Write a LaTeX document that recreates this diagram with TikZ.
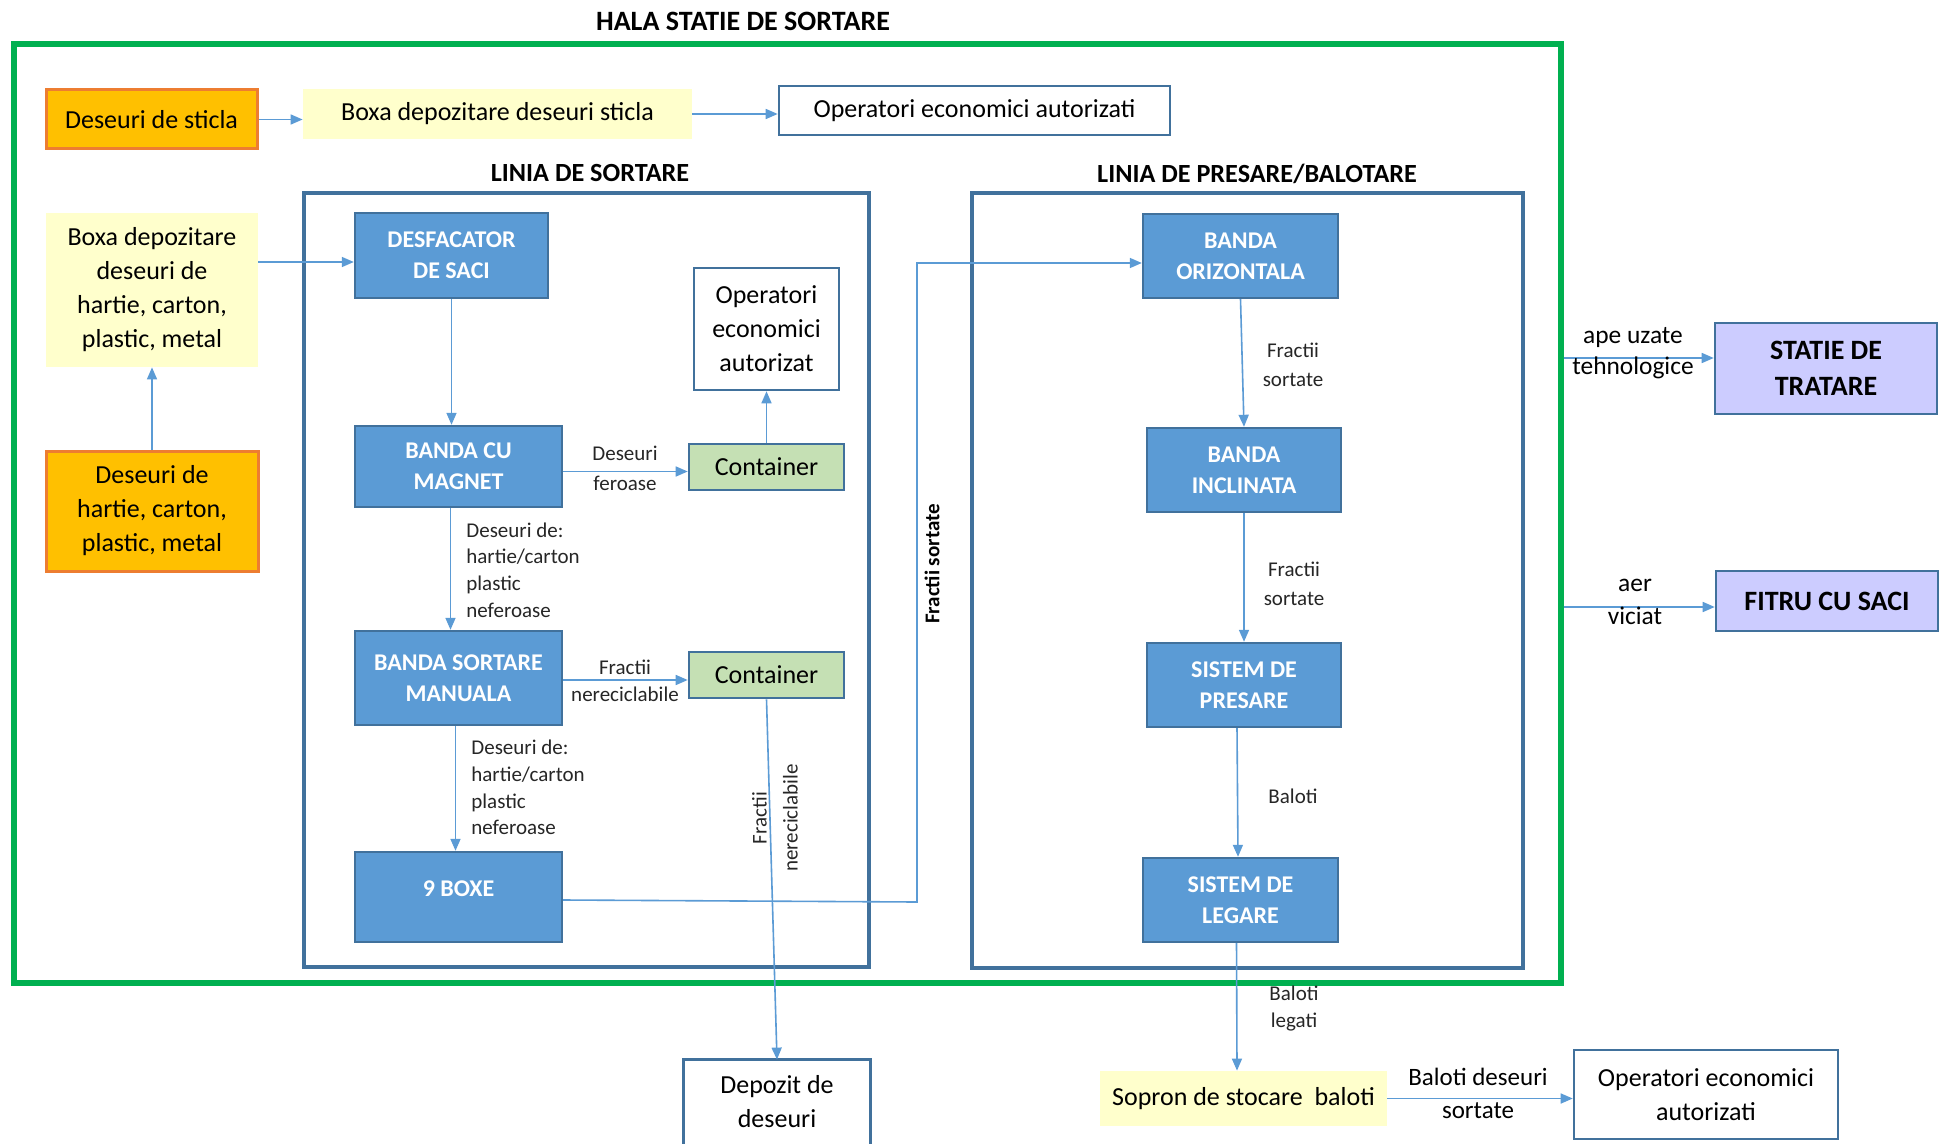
\documentclass[tikz,border=0pt]{standalone}
\usepackage{fontspec}
\setmainfont{Carlito}
\usetikzlibrary{arrows.meta,calc}
\definecolor{bluef}{HTML}{5B9BD5}
\definecolor{bordc}{HTML}{41719C}
\definecolor{linec}{HTML}{5B9BD5}
\definecolor{orangef}{HTML}{FFC000}
\definecolor{oranged}{HTML}{ED7D31}
\definecolor{yellowf}{HTML}{FFFFCC}
\definecolor{greenf}{HTML}{C5E0B4}
\definecolor{lavf}{HTML}{CCCCFF}
\definecolor{hallg}{HTML}{00B050}
\begin{document}
\begin{tikzpicture}[x=0.5pt,y=-0.5pt,
  sz/.style 2 args={minimum width=#1*0.5pt, minimum height=#2*0.5pt},
  box/.style={inner sep=0pt, align=center, font=\fontsize{13}{17}\selectfont},
  bluebox/.style={box, draw=bordc, fill=bluef, line width=1.2pt, text=white, font=\fontsize{12}{15.5}\selectfont\bfseries},
  orbox/.style={box, draw=oranged, fill=orangef, line width=1.5pt},
  yelbox/.style={box, fill=yellowf},
  whbox/.style={box, draw=bordc, line width=1.3pt},
  grbox/.style={box, draw=bordc, fill=greenf, line width=1.3pt},
  lavbox/.style={box, draw=bordc, fill=lavf, line width=1.3pt, font=\fontsize{14}{18}\selectfont\bfseries},
  frame/.style={inner sep=0pt, draw=bordc, line width=1.6pt},
  ttl/.style={inner sep=0pt, font=\fontsize{13.1}{15}\selectfont\bfseries},
  lab/.style={inner sep=0pt, align=center, text=black!85, font=\fontsize{10.5}{15}\selectfont},
  labl/.style={inner sep=0pt, align=left, anchor=west, text=black!85, font=\fontsize{10.5}{13.3}\selectfont},
  conn/.style={draw=linec, line width=0.8pt, -{Triangle[length=6pt,width=5pt]}},
  plain/.style={draw=linec, line width=0.8pt}
]
\useasboundingbox (0,0) rectangle (1941,1144);
\fill[white] (0,0) rectangle (1941,1144);

% frames
\node[inner sep=0pt, draw=hallg, line width=2.6pt, sz={1547}{939}] (hall) at (787.5,513.5) {};
\node[frame, sz={565}{774}] (sortfr) at (586.5,580) {};
\node[frame, sz={551}{775}] (presfr) at (1247.5,580.5) {};

% titles
\node[ttl, font=\fontsize{14}{16}\selectfont\bfseries] (t1) at (743,21) {HALA STATIE DE SORTARE};
\node[ttl] (t2) at (590,173) {LINIA DE SORTARE};
\node[ttl] (t3) at (1257,174) {LINIA DE PRESARE/BALOTARE};

% left column
\node[orbox, sz={211}{59}] (sticla) at (151.5,119.5) {Deseuri de sticla};
\node[yelbox, sz={389}{50}] (boxaSticla) at (497.5,114) {Boxa depozitare deseuri sticla};
\node[whbox, sz={391}{49}] (opTop) at (974.5,110.5) {Operatori economici autorizati};
\node[yelbox, sz={212}{154}] (boxaHartie) at (152,290) {Boxa depozitare\\deseuri de\\hartie, carton,\\plastic, metal};
\node[orbox, sz={212}{120}] (desHartie) at (152,511) {Deseuri de\\hartie, carton,\\plastic, metal};

% sortare line
\node[bluebox, sz={193}{85}] (desf) at (451.5,255.5) {DESFACATOR\\DE SACI};
\node[whbox, sz={145}{122}] (opMid) at (766.5,329) {Operatori\\economici\\autorizat};
\node[bluebox, sz={207}{81}] (magnet) at (458.5,466.5) {BANDA CU\\MAGNET};
\node[grbox, sz={155}{46}] (cont1) at (766.5,467) {Container};
\node[bluebox, sz={207}{94}] (manual) at (458.5,678) {BANDA SORTARE\\MANUALA};
\node[grbox, sz={155}{46}] (cont2) at (766.5,675) {Container};
\node[bluebox, sz={207}{90}] (boxe) at (458.5,897) {};
\node[inner sep=0pt, text=white, font=\fontsize{12}{15.5}\selectfont\bfseries] (boxeT) at (458.5,889) {9 BOXE};
\node[box, sz={186}{84}] (depozit) at (777,1102) {Depozit de\\deseuri};
\draw[bordc, line width=1.3pt] (depozit.south west) -- (depozit.north west) -- (depozit.north east) -- (depozit.south east);

% presare line
\node[bluebox, sz={195}{84}] (oriz) at (1240.5,256) {BANDA\\ORIZONTALA};
\node[bluebox, sz={194}{84}] (incl) at (1244,470) {BANDA\\INCLINATA};
\node[bluebox, sz={194}{84}] (pres) at (1244,685) {SISTEM DE\\PRESARE};
\node[bluebox, sz={195}{84}] (leg) at (1240.5,900) {SISTEM DE\\LEGARE};
\node[yelbox, sz={287}{55}] (sopron) at (1243.5,1098.5) {Sopron de stocare \ baloti};
\node[whbox, sz={264}{89}] (opBot) at (1706,1094.5) {Operatori economici\\autorizati};

% right side
\node[lavbox, sz={222}{91}] (statie) at (1826,368.5) {STATIE DE\\TRATARE};
\node[lavbox, sz={222}{60}] (fitru) at (1827,601) {FITRU CU SACI};

% connectors top/left
\draw[conn] (sticla.east) -- (sticla.east -| boxaSticla.west);
\draw[conn] (boxaSticla.east) -- (boxaSticla.east -| opTop.west);
\draw[conn] (desHartie.north) -- (boxaHartie.south);
\coordinate (desfIn) at ($(desf.west)+(0,6.5)$);
\draw[conn] (boxaHartie.east |- desfIn) -- (desfIn);

% sortare connectors
\draw[conn] (desf.south) -- (desf.south |- magnet.north);
\coordinate (magOut) at ($(magnet.east)+(0,5)$);
\draw[conn] (magOut) -- (magOut -| cont1.west);
\node[lab] (l1) at (625,468) {Deseuri\\feroase};
\draw[conn] (cont1.north) -- (opMid.south);
\coordinate (magDown) at ($(magnet.south)+(-8,0)$);
\draw[conn] (magDown) -- (magDown |- manual.north);
\node[labl] (l2) at (466,570) {Deseuri de:\\hartie/carton\\plastic\\neferoase};
\coordinate (manOut) at ($(manual.east)+(0,2)$);
\draw[conn] (manOut) -- (manOut -| cont2.west);
\node[lab, font=\fontsize{10.5}{13.5}\selectfont] (l3) at (625,680.5) {Fractii\\nereciclabile};
\coordinate (manDown) at ($(manual.south)+(-3,0)$);
\draw[conn] (manDown) -- (manDown |- boxe.north);
\node[labl] (l4) at (471,787.5) {Deseuri de:\\hartie/carton\\plastic\\neferoase};
\draw[conn] (cont2.south) -- (depozit.north);
\node[lab, rotate=90, font=\fontsize{10.5}{15.5}\selectfont] (l5) at (775,818) {Fractii\\nereciclabile};

% 9 boxe to banda orizontala
\coordinate (c1) at (917,902);
\coordinate (c2) at (917,263);
\draw[conn] ($(boxe.east)+(0,3)$) -- (c1) -- (c2) -- (c2 -| oriz.west);
\node[inner sep=0pt, rotate=90, font=\fontsize{10.5}{13}\selectfont\bfseries] (l6) at (932,564) {Fractii sortate};

% presare connectors
\draw[conn] (oriz.south) -- (incl.north);
\node[lab, font=\fontsize{10.5}{14.5}\selectfont] (l7) at (1293,364.5) {Fractii\\sortate};
\draw[conn] (incl.south) -- (pres.north);
\node[lab, font=\fontsize{10.5}{14.5}\selectfont] (l8) at (1294,584) {Fractii\\sortate};
\draw[conn] ($(pres.south)+(-7,0)$) -- ($(leg.north)+(-2.5,0)$);
\node[lab] (l9) at (1293,796) {Baloti};
\draw[conn] ($(leg.south)+(-4,0)$) -- ($(sopron.north)+(-6.5,0)$);
\node[lab, font=\fontsize{10.5}{13.5}\selectfont] (l10) at (1294,1008.5) {Baloti\\legati};
\draw[conn] (sopron.east) -- (sopron.east -| opBot.west);
\node[lab, font=\fontsize{12.5}{16.5}\selectfont, text=black] (l11) at (1478,1093.5) {Baloti deseuri\\sortate};

% right side connectors
\coordinate (statIn) at ($(statie.west)+(0,-10.5)$);
\draw[conn] (hall.east |- statIn) -- (statIn);
\node[lab, font=\fontsize{12.7}{15.5}\selectfont, text=black] (l12) at (1633,353.5) {ape uzate\\tehnologice};
\coordinate (fitIn) at ($(fitru.west)+(0,6)$);
\draw[conn] (hall.east |- fitIn) -- (fitIn);
\node[lab, font=\fontsize{12.7}{16.5}\selectfont, text=black] (l13) at (1635,601.5) {aer\\viciat};
\end{tikzpicture}
\end{document}
